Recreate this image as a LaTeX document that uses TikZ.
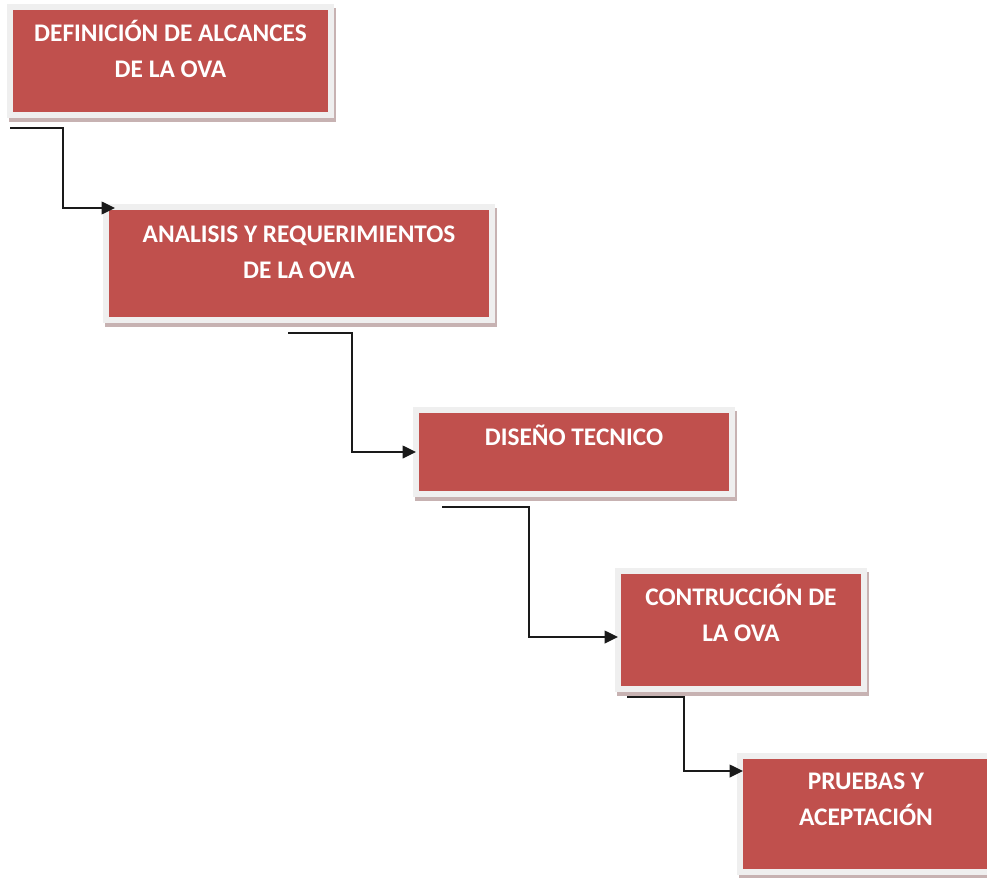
\documentclass[tikz,border=0pt]{standalone}
\usepackage{fontspec}
\setmainfont{Carlito}
\usetikzlibrary{arrows.meta,calc}
\definecolor{stagered}{HTML}{C0504D}
\definecolor{framegray}{HTML}{EFEFEF}
\definecolor{shadowc}{HTML}{C7B2B2}
\definecolor{linegray}{HTML}{1A1A1A}
\tikzset{
  stagebox/.style={rectangle, fill=stagered, draw=framegray, line width=4.5pt,
    inner sep=0pt, outer sep=0pt,
    preaction={draw=shadowc, fill=shadowc, line width=4.5pt,
      transform canvas={shift={(2,4)}}}},
  boxsize/.style 2 args={minimum width=#1*0.75pt, minimum height=#2*0.75pt},
  caption/.style={anchor=base, text=white, align=center, inner sep=0pt,
    font=\bfseries\fontsize{19}{27}\selectfont},
  flow/.style={draw=linegray, line width=1.1pt,
    -{Triangle[length=10pt,width=9.5pt]}},
}
\begin{document}
\begin{tikzpicture}[x=0.75pt, y=-0.75pt]
\useasboundingbox (0,0) rectangle (987,877);

% stages of the process
\node[stagebox, boxsize={321}{108}] (b1) at (170.5,61) {};
\node[stagebox, boxsize={386}{113}] (b2) at (299,263.5) {};
\node[stagebox, boxsize={316}{84}]  (b3) at (574,452) {};
\node[stagebox, boxsize={246}{118}] (b4) at (741,630) {};
\node[stagebox, boxsize={252}{116}] (b5) at (866,814) {};

% stage titles (base anchor sits on the last line)
\node[caption] (t1) at ($(b1.north)+(0,70.5)$) {DEFINICIÓN DE ALCANCES\\DE LA OVA};
\node[caption] (t2) at ($(b2.north)+(0,71.5)$) {ANALISIS Y REQUERIMIENTOS\\DE LA OVA};
\node[caption] (t3) at ($(b3.north)+(0,35.5)$) {DISEÑO TECNICO};
\node[caption] (t4) at ($(b4.north)+(0,70.5)$) {CONTRUCCIÓN DE\\LA OVA};
\node[caption] (t5) at ($(b5.north)+(0,69.5)$) {PRUEBAS Y\\ACEPTACIÓN};

% connectors between consecutive stages
\coordinate (s1) at ($(b1.south west)+(0,13)$);
\coordinate (e1) at ($(b2.north west)+(9,1)$);
\coordinate (s2) at ($(b2.south west)+(182,13)$);
\coordinate (e2) at (b3.west);
\coordinate (s3) at ($(b3.south west)+(26,13)$);
\coordinate (e3) at ($(b4.west)+(0,7)$);
\coordinate (s4) at ($(b4.south west)+(9,8)$);
\coordinate (e4) at ($(b5.north west)+(3,15)$);

\draw[flow] (s1) -- ++(53,0) |- (e1);
\draw[flow] (s2) -- ++(64,0) |- (e2);
\draw[flow] (s3) -- ++(87,0) |- (e3);
\draw[flow] (s4) -- ++(57,0) |- (e4);
\end{tikzpicture}
\end{document}
